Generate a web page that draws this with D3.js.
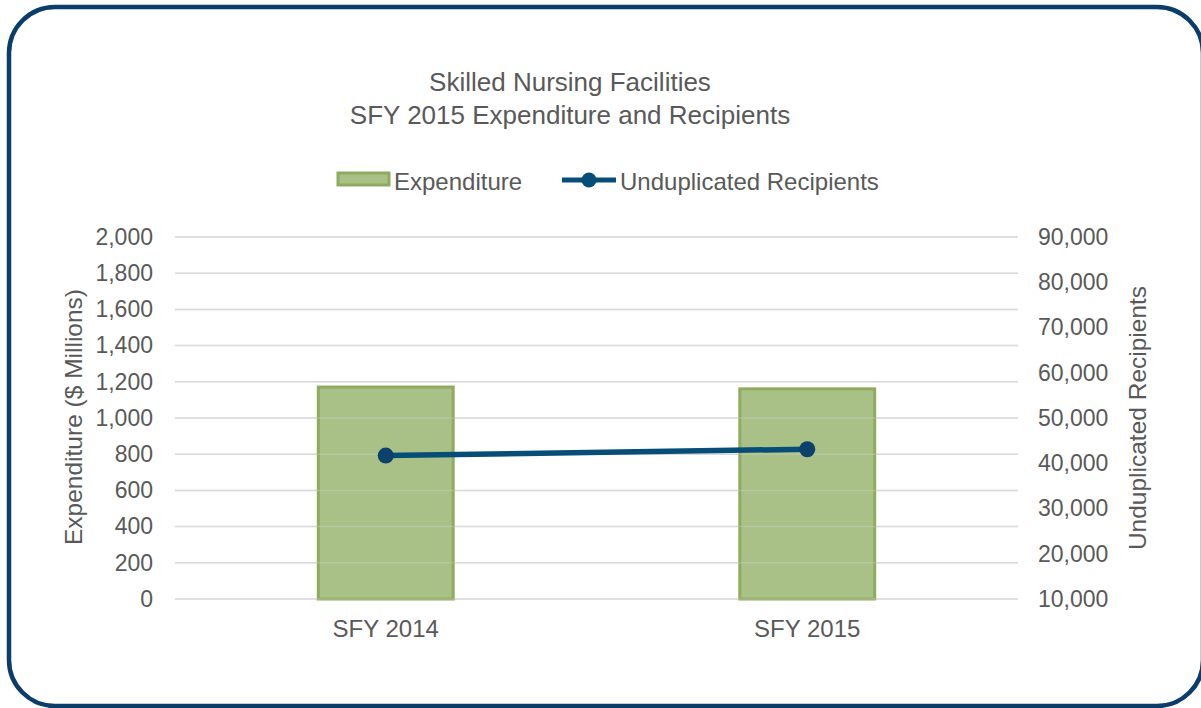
<!DOCTYPE html>
<html>
<head>
<meta charset="utf-8">
<script src="https://cdnjs.cloudflare.com/ajax/libs/d3/7.8.5/d3.min.js"></script>
<style>
  body { margin: 0; background: #fff; }
  text { font-family: "Liberation Sans", Arial, sans-serif; fill: #595959; }
</style>
</head>
<body>
<div id="chart"></div>
<script>
// chart data
var categories = ["SFY 2014", "SFY 2015"];
var expenditure = [1171, 1161];           // $ millions
var recipients = [41700, 43100];          // unduplicated recipients
var leftTicks = [0, 200, 400, 600, 800, 1000, 1200, 1400, 1600, 1800, 2000];
var rightTicks = [10000, 20000, 30000, 40000, 50000, 60000, 70000, 80000, 90000];
var titleLines = ["Skilled Nursing Facilities", "SFY 2015 Expenditure and Recipients"];

var width = 1201, height = 708;
var margin = { top: 237, right: 183, bottom: 109, left: 175 };
var plotW = width - margin.left - margin.right,
    plotH = height - margin.top - margin.bottom;
var font = "'Liberation Sans', Arial, sans-serif";

var svg = d3.select("#chart").append("svg")
  .attr("width", width)
  .attr("height", height);

// rounded frame
svg.append("rect")
  .attr("x", 9).attr("y", 7)
  .attr("width", 1194).attr("height", 699)
  .attr("rx", 46).attr("ry", 46)
  .style("fill", "#fff")
  .style("stroke", "#0b3d6b")
  .style("stroke-width", 4.5);

// scales
var x = d3.scaleBand().domain(categories).range([0, plotW])
  .paddingInner(0.68).paddingOuter(0.34);
var yL = d3.scaleLinear().domain([0, 2000]).range([plotH, 0]);
var yR = d3.scaleLinear().domain([10000, 90000]).range([plotH, 0]);

var g = svg.append("g")
  .attr("transform", "translate(" + margin.left + "," + margin.top + ")");

function drawGrid(opacity) {
  g.append("g")
    .selectAll("line")
    .data(leftTicks)
    .enter().append("line")
    .attr("x1", 0).attr("x2", plotW)
    .attr("y1", function (d) { return yL(d); })
    .attr("y2", function (d) { return yL(d); })
    .style("stroke", "#d9d9d9")
    .style("stroke-width", 1.5)
    .style("opacity", opacity);
}

drawGrid(1);

// bars
g.selectAll(".bar")
  .data(expenditure)
  .enter().append("rect")
  .attr("class", "bar")
  .attr("x", function (d, i) { return x(categories[i]); })
  .attr("y", function (d) { return yL(d); })
  .attr("width", x.bandwidth())
  .attr("height", function (d) { return plotH - yL(d); })
  .style("fill", "#a9c187")
  .style("stroke", "#8eab5e")
  .style("stroke-width", 3);

// faint grid showing through bars
drawGrid(0.3);

function styleTicks(sel, size) {
  sel.select(".domain").remove();
  sel.selectAll("text")
    .style("font-size", size)
    .style("fill", "#595959")
    .style("font-family", font);
}

// left axis labels
g.append("g")
  .call(d3.axisLeft(yL).tickValues(leftTicks).tickSize(0).tickPadding(22).tickFormat(d3.format(",")))
  .call(styleTicks, "23px");

// right axis labels
g.append("g")
  .attr("transform", "translate(" + plotW + ",0)")
  .call(d3.axisRight(yR).tickValues(rightTicks).tickSize(0).tickPadding(20).tickFormat(d3.format(",")))
  .call(styleTicks, "23px");

// x axis labels
g.append("g")
  .attr("transform", "translate(0," + plotH + ")")
  .call(d3.axisBottom(x).tickSize(0).tickPadding(21))
  .call(styleTicks, "24px");

// recipients line
var line = d3.line()
  .x(function (d, i) { return x(categories[i]) + x.bandwidth() / 2; })
  .y(function (d) { return yR(d); });

g.append("path")
  .datum(recipients)
  .attr("d", line)
  .style("fill", "none")
  .style("stroke", "#064e78")
  .style("stroke-width", 5.5);

g.selectAll(".dot")
  .data(recipients)
  .enter().append("circle")
  .attr("class", "dot")
  .attr("r", 8)
  .attr("cx", function (d, i) { return x(categories[i]) + x.bandwidth() / 2; })
  .attr("cy", function (d) { return yR(d); })
  .style("fill", "#0c416b");

// title
svg.append("text")
  .attr("x", 570).attr("y", 91)
  .style("text-anchor", "middle")
  .style("font-size", "26px")
  .text(titleLines[0]);
svg.append("text")
  .attr("x", 570).attr("y", 124)
  .style("text-anchor", "middle")
  .style("font-size", "26px")
  .text(titleLines[1]);

// axis titles
svg.append("text")
  .attr("transform", "translate(82,417) rotate(-90)")
  .style("text-anchor", "middle")
  .style("font-size", "24.5px")
  .text("Expenditure ($ Millions)");
svg.append("text")
  .attr("transform", "translate(1146,418) rotate(-90)")
  .style("text-anchor", "middle")
  .style("font-size", "24.5px")
  .text("Unduplicated Recipients");

// legend
var legend = svg.append("g");
legend.append("rect")
  .attr("x", 338).attr("y", 173)
  .attr("width", 51).attr("height", 12)
  .style("fill", "#a9c187")
  .style("stroke", "#8eab5e")
  .style("stroke-width", 3);
legend.append("text")
  .attr("x", 394).attr("y", 190)
  .style("font-size", "24px")
  .text("Expenditure");
legend.append("line")
  .attr("x1", 562).attr("x2", 616)
  .attr("y1", 180).attr("y2", 180)
  .style("stroke", "#064e78")
  .style("stroke-width", 5);
legend.append("circle")
  .attr("cx", 589).attr("cy", 180).attr("r", 7.5)
  .style("fill", "#064e78");
legend.append("text")
  .attr("x", 620).attr("y", 190)
  .style("font-size", "24px")
  .text("Unduplicated Recipients");
</script>
</body>
</html>
